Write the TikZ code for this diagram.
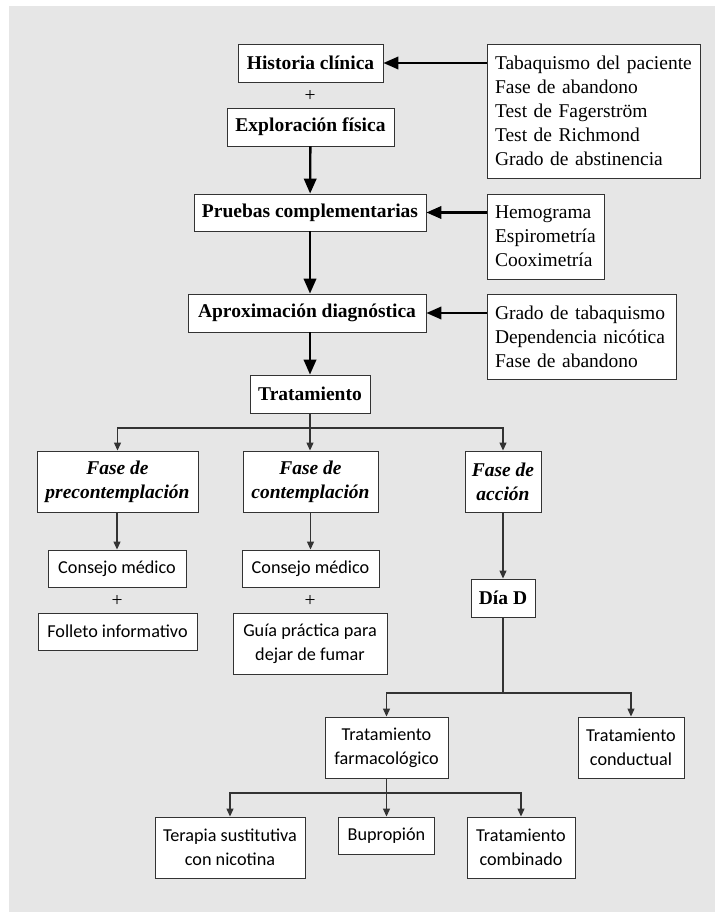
\documentclass[tikz,border=0pt]{standalone}
\usepackage{fontspec}
\setmainfont{Liberation Serif}
\newfontfamily\sansfont{Carlito}
\usetikzlibrary{arrows.meta}
\definecolor{panel}{HTML}{E6E6E6}
\definecolor{edge}{HTML}{333333}
\begin{document}
\begin{tikzpicture}[x=1pt, y=-1pt,
    box/.style={draw=edge, line width=0.9pt, fill=white, inner sep=0pt, align=center, font=\fontsize{19.5}{24}\selectfont\bfseries},
    listbox/.style={draw=edge, line width=0.9pt, fill=white, inner sep=0pt, inner xsep=8pt, align=left, font=\fontsize{19.5}{24}\selectfont},
    sbox/.style={draw=edge, line width=0.9pt, fill=white, inner sep=0pt, align=center, font=\sansfont\fontsize{18.2}{24}\selectfont},
    fat/.style={line width=2.3pt, -{Triangle[length=15pt,width=12.5pt]}},
    thin/.style={draw=edge, line width=1.2pt, -{Triangle[length=8pt,width=7pt]}}]
    \useasboundingbox (0,0) rectangle (715,912);
    \fill[panel] (9,6) rectangle (715,912);

    % Main column
    \node[box, minimum width=145pt, minimum height=38pt] (hist) at (310.5,63) {Historia clínica};
    \node[font=\fontsize{19.5}{24}\selectfont] (p1) at (310,96) {+};
    \node[box, minimum width=167pt, minimum height=38pt] (expl) at (310.5,127) {Exploración física};
    \node[box, minimum width=232pt, minimum height=37pt] (prue) at (310,212.5) {Pruebas complementarias};
    \node[box, minimum width=238pt, minimum height=38pt] (aprox) at (307,313) {Aproximación diagnóstica};
    \node[box, minimum width=120pt, minimum height=38pt] (trat) at (310,394) {Tratamiento};

    % Right column
    \node[listbox, text width=197pt, minimum height=134pt] (r1) at (593.5,111)
        {Tabaquismo del paciente\\Fase de abandono\\Test de Fagerström\\Test de Richmond\\Grado de abstinencia};
    \node[listbox, text width=101pt, minimum height=85pt] (r2) at (545.5,236.5)
        {Hemograma\\Espirometría\\Cooximetría};
    \node[listbox, text width=173pt, minimum height=85pt] (r3) at (581.5,336.5)
        {Grado de tabaquismo\\Dependencia nicótica\\Fase de abandono};

    \draw[fat] (expl) -- (prue);
    \draw[fat] (prue.south -| trat) -- (aprox.north -| trat);
    \draw[fat] (aprox.south -| trat) -- (trat);
    \draw[fat] (r1.west |- hist) -- (hist);
    \draw[fat] (r2.west |- prue) -- (prue);
    \draw[fat] (r3.west |- aprox) -- (aprox);

    % Phases
    \node[box, minimum width=161pt, minimum height=61pt, font=\fontsize{19.5}{24}\selectfont\bfseries\itshape] (pre) at (117.5,481.5) {Fase de\\precontemplación};
    \node[box, minimum width=135pt, minimum height=61pt, font=\fontsize{19.5}{24}\selectfont\bfseries\itshape] (con) at (310.5,481.5) {Fase de\\contemplación};
    \node[box, minimum width=76pt, minimum height=61pt, font=\fontsize{19.5}{24}\selectfont\bfseries\itshape] (acc) at (503,481.5) {Fase de\\acción};

    \coordinate (b1) at (310,428);
    \draw[thin, -] (trat) -- (b1);
    \draw[thin] (b1) -| (pre);
    \draw[thin] (b1) -- (b1 |- con.north);
    \draw[thin] (b1) -| (acc);

    % Under the phases
    \node[sbox, minimum width=138pt, minimum height=37pt] (cm1) at (117,568.5) {Consejo médico};
    \node[font=\fontsize{19.5}{24}\selectfont] (p2) at (117,601) {+};
    \node[sbox, minimum width=159pt, minimum height=37pt] (fol) at (117.5,631.5) {Folleto informativo};
    \node[sbox, minimum width=137pt, minimum height=37pt] (cm2) at (310.5,568.5) {Consejo médico};
    \node[font=\fontsize{19.5}{24}\selectfont] (p3) at (310,601) {+};
    \node[sbox, minimum width=154pt, minimum height=61pt] (gui) at (310,643.5) {Guía práctica para\\dejar de fumar};
    \node[box, minimum width=64pt, minimum height=38pt] (dia) at (503,598) {Día D};

    \draw[thin] (pre.south -| cm1) -- (cm1);
    \draw[thin] (con.south -| cm2) -- (cm2);
    \draw[thin] (acc) -- (dia);

    % Treatments
    \node[sbox, minimum width=123pt, minimum height=61pt] (far) at (386.5,747.5) {Tratamiento\\farmacológico};
    \node[sbox, minimum width=106pt, minimum height=61pt] (cond) at (631,747.5) {Tratamiento\\conductual};
    \node[sbox, minimum width=150pt, minimum height=61pt] (ter) at (230,847.5) {Terapia sustitutiva\\con nicotina};
    \node[sbox, minimum width=96pt, minimum height=37pt] (bup) at (386.5,835.5) {Bupropión};
    \node[sbox, minimum width=108pt, minimum height=61pt] (comb) at (521,847.5) {Tratamiento\\combinado};

    \coordinate (b2) at (503,693);
    \draw[thin, -] (dia) -- (b2);
    \draw[thin] (b2) -| (far);
    \draw[thin] (b2) -| (cond);

    \coordinate (b3) at (386.5,793);
    \draw[thin, -] (far) -- (b3);
    \draw[thin] (b3) -| (ter);
    \draw[thin] (b3) -- (bup);
    \draw[thin] (b3) -| (comb);
\end{tikzpicture}
\end{document}
